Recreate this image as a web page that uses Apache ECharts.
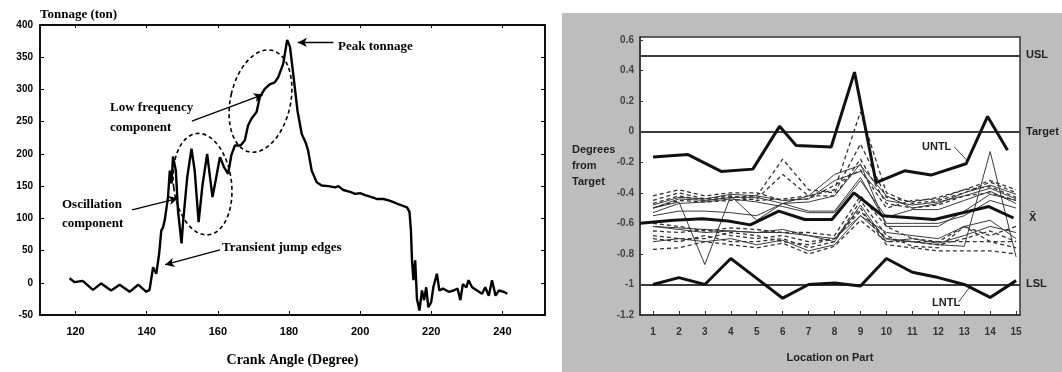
<!DOCTYPE html>
<html>
<head>
<meta charset="utf-8">
<script src="https://cdn.jsdelivr.net/npm/echarts@6/dist/echarts.min.js"></script>
<style>
  html, body { margin: 0; padding: 0; background: #fff; }
  #main { width: 1062px; height: 372px; }
</style>
</head>
<body>
<div id="main"></div>
<script>
// ---- left chart: tonnage vs crank angle ----
const crankAngle = [118.3,119.7,122,124.9,127.2,130,132.4,135.2,137.6,139.9,140.8,141.8,142.7,143.5,144.1,144.6,145.1,146,146.5,147,
  147.4,148.2,148.8,149.8,150.2,151.4,152.6,153.5,154.6,155.7,157,158.5,159.4,160.6,161.7,162.9,163.8,164.8,166.4,167.6,
  168.5,169.5,170.9,171.8,173.2,174.6,176,177,178.4,179.5,180.3,181.2,182.4,183.6,184.8,185.4,186.4,187.8,189.2,191.1,
  193,193.9,195.3,197.2,198.6,200,201.4,203.3,204.7,206.6,208.5,210.3,211.7,213.2,213.9,214.3,214.6,215,215.5,216,
  216.7,217.4,218,218.6,219.2,220,220.6,221.6,222.3,223.3,224.9,226.3,227.4,228.2,228.9,229.9,230.5,231.5,232.9,234.3,
  235.2,236.2,237.1,238.1,239,240.4,241.4];
const tonnage = [7,1,3,-11,-1,-12,-3,-14,-3,-14,-11,24,14,45,81,86,98,133,174,154,
  196,174,112,61,92,164,208,174,94,152,200,133,159,195,180,169,198,213,213,221,
  244,255,265,288,301,308,311,319,340,377,366,324,267,231,216,205,174,156,151,150,
  148,150,144,141,138,139,136,133,130,130,127,123,120,117,110,81,35,4,35,-25,
  -43,-12,-27,-7,-38,-30,-7,14,-12,-9,-14,-12,-9,-27,-2,-7,4,-7,-12,-17,
  -7,-20,4,-20,-12,-14,-17];
const angleTicks = [120, 140, 160, 180, 200, 220, 240];

// annotation arrows [from, to] in data units
const arrowFrom = [[192.5, 373], [152.7, 251], [135.9, 113], [160.6, 51]];
const arrowTo   = [[182.5, 373], [172.7, 292], [148.8, 131], [145.2, 28]];
// dashed ellipses: centre in data units
const ellipseCentres = [[155.7, 153], [172.0, 282]];

// ---- right chart: degrees from target by location ----
const locations = [1,2,3,4,5,6,7,8,9,10,11,12,13,14,15];
const degreeTicks = [-1.2, -1, -0.8, -0.6, -0.4, -0.2, 0, 0.2, 0.4, 0.6];
const untlX = [1, 2.35, 3.63, 4.85, 5.88, 6.52, 7.87, 8.77, 9.6, 10.7, 11.72, 13.07, 13.9, 14.67];
const untlY = [-0.165, -0.15, -0.26, -0.245, 0.035, -0.09, -0.1, 0.39, -0.333, -0.256, -0.284, -0.21, 0.1, -0.122];
const xbarX = [0.5, 1.8, 2.9, 3.9, 4.75, 5.85, 6.85, 7.9, 8.75, 9.85, 11.85, 13.95, 14.9];
const xbarY = [-0.6, -0.58, -0.57, -0.585, -0.61, -0.52, -0.575, -0.575, -0.4, -0.55, -0.575, -0.49, -0.565];
const lntlY = [-1.0, -0.955, -1.0, -0.83, -0.96, -1.09, -1.0, -0.99, -1.01, -0.83, -0.92, -0.955, -1.0, -1.085, -0.975];
const limitNames = ['USL', 'Target', 'LSL'];
const limitValues = [0.5, 0, -1];

const solidRuns = [
  [-0.50,-0.44,-0.45,-0.43,-0.43,-0.47,-0.42,-0.28,-0.22,-0.42,-0.50,-0.47,-0.40,-0.35,-0.41],
  [-0.48,-0.43,-0.44,-0.41,-0.42,-0.45,-0.44,-0.32,-0.26,-0.45,-0.48,-0.46,-0.42,-0.37,-0.44],
  [-0.53,-0.47,-0.46,-0.44,-0.46,-0.49,-0.53,-0.53,-0.32,-0.56,-0.51,-0.51,-0.45,-0.39,-0.47],
  [-0.50,-0.46,-0.87,-0.42,-0.58,-0.47,-0.46,-0.42,-0.21,-0.62,-0.62,-0.62,-0.52,-0.41,-0.45],
  [-0.62,-0.63,-0.64,-0.65,-0.66,-0.66,-0.68,-0.70,-0.55,-0.70,-0.72,-0.74,-0.75,-0.13,-0.82],
  [-0.55,-0.52,-0.52,-0.53,-0.55,-0.47,-0.52,-0.52,-0.30,-0.60,-0.60,-0.60,-0.55,-0.45,-0.50],
  [-0.62,-0.64,-0.66,-0.65,-0.66,-0.64,-0.68,-0.72,-0.48,-0.72,-0.70,-0.73,-0.68,-0.62,-0.66],
  [-0.72,-0.70,-0.72,-0.70,-0.74,-0.71,-0.78,-0.74,-0.55,-0.66,-0.68,-0.70,-0.62,-0.58,-0.70]
];
const dashedRuns = [
  [-0.45,-0.40,-0.44,-0.42,-0.45,-0.44,-0.42,-0.38, 0.13,-0.40,-0.47,-0.45,-0.40,-0.33,-0.40],
  [-0.47,-0.42,-0.45,-0.43,-0.42,-0.18,-0.38,-0.40,-0.08,-0.43,-0.46,-0.43,-0.38,-0.36,-0.43],
  [-0.50,-0.45,-0.46,-0.45,-0.44,-0.28,-0.42,-0.42,-0.18,-0.47,-0.50,-0.48,-0.42,-0.40,-0.45],
  [-0.42,-0.38,-0.42,-0.40,-0.40,-0.45,-0.44,-0.35,-0.25,-0.50,-0.45,-0.44,-0.38,-0.32,-0.38],
  [-0.65,-0.66,-0.64,-0.68,-0.70,-0.68,-0.72,-0.70,-0.52,-0.70,-0.72,-0.74,-0.70,-0.65,-0.72],
  [-0.70,-0.72,-0.68,-0.72,-0.72,-0.70,-0.76,-0.72,-0.45,-0.68,-0.75,-0.76,-0.62,-0.72,-0.76],
  [-0.77,-0.76,-0.72,-0.74,-0.76,-0.73,-0.80,-0.75,-0.58,-0.72,-0.72,-0.72,-0.72,-0.72,-0.72],
  [-0.68,-0.70,-0.70,-0.66,-0.68,-0.72,-0.74,-0.70,-0.50,-0.74,-0.76,-0.78,-0.78,-0.78,-0.80],
  [-0.60,-0.62,-0.65,-0.63,-0.64,-0.66,-0.66,-0.68,-0.42,-0.62,-0.70,-0.72,-0.62,-0.68,-0.62]
];
// leader lines from UNTL / LNTL labels
const leaderFrom = [[12.62, -0.1], [12.78, -1.115]];
const leaderTo   = [[13.12, -0.19], [13.2, -1.02]];

const serif = 'Liberation Serif';
const sans = 'Liberation Sans';

const chart = echarts.init(document.getElementById('main'));

const thinSeries = [];
solidRuns.forEach(run => thinSeries.push({
  type: 'line', xAxisIndex: 2, yAxisIndex: 2, symbol: 'none', silent: true,
  data: locations.map((x, i) => [x, run[i]]),
  lineStyle: { color: '#3a3a3a', width: 1 }, z: 2
}));
dashedRuns.forEach(run => thinSeries.push({
  type: 'line', xAxisIndex: 2, yAxisIndex: 2, symbol: 'none', silent: true,
  data: locations.map((x, i) => [x, run[i]]),
  lineStyle: { color: '#333', width: 1.3, type: [4, 3] }, z: 2
}));

chart.setOption({
  animation: false,
  backgroundColor: '#fff',
  grid: [
    { left: 40, right: 517, top: 25, bottom: 54, show: true, backgroundColor: '#fff', borderColor: '#000', borderWidth: 1.5 },
    { left: 640, right: 42, top: 37, bottom: 57, show: true, backgroundColor: '#fff', borderColor: '#333', borderWidth: 1.5 }
  ],
  xAxis: [
    {
      gridIndex: 0, type: 'value', min: 110, max: 252, position: 'bottom',
      name: 'Crank Angle (Degree)', nameLocation: 'middle', nameGap: 38,
      nameTextStyle: { fontFamily: serif, fontWeight: 'bold', fontSize: 14, color: '#000' },
      axisLine: { onZero: false, lineStyle: { color: '#000', width: 1.5 } },
      axisTick: { inside: true, length: 4, customValues: angleTicks, lineStyle: { color: '#000' } },
      axisLabel: { customValues: angleTicks, margin: 11, fontFamily: sans, fontWeight: 'bold', fontSize: 11, color: '#000' },
      splitLine: { show: false }
    },
    {
      gridIndex: 0, type: 'value', min: 110, max: 252, position: 'top',
      axisLine: { onZero: false, lineStyle: { color: '#000', width: 1.5 } },
      axisTick: { inside: true, length: 3, customValues: angleTicks, lineStyle: { color: '#000' } },
      axisLabel: { show: false }, splitLine: { show: false }
    },
    {
      gridIndex: 1, type: 'value', min: 0.5, max: 15.15,
      name: 'Location on Part', nameLocation: 'middle', nameGap: 37,
      nameTextStyle: { fontFamily: sans, fontWeight: 'bold', fontSize: 11, color: '#222' },
      axisLine: { onZero: false, lineStyle: { color: '#333', width: 1.5 } },
      axisTick: { inside: true, length: 4, customValues: locations, lineStyle: { color: '#333' } },
      axisLabel: { customValues: locations, margin: 12, fontFamily: sans, fontWeight: 'bold', fontSize: 10, color: '#333' },
      splitLine: { show: false }
    }
  ],
  yAxis: [
    {
      gridIndex: 0, type: 'value', min: -50, max: 400, interval: 50,
      name: 'Tonnage (ton)', nameLocation: 'end', nameGap: 4,
      nameTextStyle: { fontFamily: serif, fontWeight: 'bold', fontSize: 13, color: '#000', align: 'left' },
      axisLine: { show: true, onZero: false, lineStyle: { color: '#000', width: 1.5 } },
      axisTick: { show: true, inside: true, length: 4, lineStyle: { color: '#000' } },
      axisLabel: { margin: 7, fontFamily: sans, fontWeight: 'bold', fontSize: 10, color: '#000' },
      splitLine: { show: false }
    },
    {
      gridIndex: 0, type: 'value', min: -50, max: 400, interval: 50, position: 'right',
      axisLine: { show: true, onZero: false, lineStyle: { color: '#000', width: 1.5 } },
      axisTick: { show: true, inside: true, length: 4, lineStyle: { color: '#000' } },
      axisLabel: { show: false }, splitLine: { show: false }
    },
    {
      gridIndex: 1, type: 'value', min: -1.2, max: 0.62,
      axisLine: { show: true, onZero: false, lineStyle: { color: '#333', width: 1.5 } },
      axisTick: { show: true, inside: true, length: 3, customValues: degreeTicks, lineStyle: { color: '#333' } },
      axisLabel: { customValues: degreeTicks, margin: 6, fontFamily: sans, fontWeight: 'bold', fontSize: 10, color: '#444' },
      splitLine: { show: false }
    }
  ],
  series: [
    {
      type: 'line', xAxisIndex: 0, yAxisIndex: 0, symbol: 'none', silent: true,
      data: crankAngle.map((a, i) => [a, tonnage[i]]),
      lineStyle: { color: '#000', width: 2.4 },
      markLine: {
        silent: true, symbol: ['none', 'arrow'], symbolSize: [7, 9],
        lineStyle: { color: '#000', width: 1.3, type: 'solid' },
        label: { show: false },
        data: arrowFrom.map((f, i) => [{ coord: f }, { coord: arrowTo[i] }])
      }
    },
    ...thinSeries,
    {
      type: 'line', xAxisIndex: 2, yAxisIndex: 2, symbol: 'none', silent: true, z: 5,
      data: untlX.map((x, i) => [x, untlY[i]]),
      lineStyle: { color: '#111', width: 3 },
      markLine: {
        silent: true, symbol: 'none',
        lineStyle: { color: '#444', width: 1, type: 'solid' },
        label: { show: false },
        data: leaderFrom.map((f, i) => [{ coord: f }, { coord: leaderTo[i] }])
      }
    },
    {
      type: 'line', xAxisIndex: 2, yAxisIndex: 2, symbol: 'none', silent: true, z: 5,
      data: xbarX.map((x, i) => [x, xbarY[i]]),
      lineStyle: { color: '#111', width: 3 }
    },
    {
      type: 'line', xAxisIndex: 2, yAxisIndex: 2, symbol: 'none', silent: true, z: 5,
      data: locations.map((x, i) => [x, lntlY[i]]),
      lineStyle: { color: '#111', width: 3 },
      markLine: {
        silent: true, symbol: 'none',
        lineStyle: { color: '#3c3c3c', width: 2, type: 'solid' },
        label: {
          position: 'end', distance: 6, color: '#222', fontFamily: sans, fontWeight: 'bold', fontSize: 11,
          formatter: p => p.name
        },
        data: limitNames.map((n, i) => ({ name: n, yAxis: limitValues[i] }))
      }
    }
  ]
});

// annotations (ellipses placed from data coordinates)
const c1 = chart.convertToPixel({ seriesIndex: 0 }, ellipseCentres[0]);
const c2 = chart.convertToPixel({ seriesIndex: 0 }, ellipseCentres[1]);
const labelStyle = { fontFamily: serif, fontWeight: 'bold', fontSize: 13, fill: '#000' };
const rightStyle = { fontFamily: sans, fontWeight: 'bold', fontSize: 11, fill: '#222' };

chart.setOption({
  graphic: [
    { type: 'rect', z: -10, silent: true, shape: { x: 562, y: 13, width: 500, height: 359 }, style: { fill: '#bdbdbd' } },
    { type: 'ellipse', z: 10, silent: true, x: c1[0], y: c1[1], rotation: 0.12,
      shape: { cx: 0, cy: 0, rx: 29, ry: 51 }, style: { fill: null, stroke: '#000', lineWidth: 1.6, lineDash: [4, 3] } },
    { type: 'ellipse', z: 10, silent: true, x: c2[0], y: c2[1], rotation: -0.22,
      shape: { cx: 0, cy: 0, rx: 30, ry: 52 }, style: { fill: null, stroke: '#000', lineWidth: 1.6, lineDash: [4, 3] } },
    { type: 'text', z: 10, silent: true, x: 338, y: 40, style: Object.assign({ text: 'Peak tonnage' }, labelStyle) },
    { type: 'text', z: 10, silent: true, x: 110, y: 98, style: Object.assign({ text: 'Low frequency\ncomponent', lineHeight: 20 }, labelStyle) },
    { type: 'text', z: 10, silent: true, x: 62, y: 195, style: Object.assign({ text: 'Oscillation\ncomponent', lineHeight: 19 }, labelStyle) },
    { type: 'text', z: 10, silent: true, x: 222, y: 241, style: Object.assign({ text: 'Transient jump edges' }, labelStyle) },
    { type: 'text', z: 10, silent: true, x: 572, y: 142, style: Object.assign({ text: 'Degrees\nfrom\nTarget', lineHeight: 16 }, rightStyle) },
    { type: 'text', z: 10, silent: true, x: 1029, y: 212, style: Object.assign({ text: 'X\u0304' }, rightStyle) },
    { type: 'text', z: 10, silent: true, x: 922, y: 141, style: Object.assign({ text: 'UNTL', fontSize: 10 }, rightStyle) },
    { type: 'text', z: 10, silent: true, x: 932, y: 297, style: Object.assign({ text: 'LNTL', fontSize: 10 }, rightStyle) }
  ]
});
</script>
</body>
</html>
